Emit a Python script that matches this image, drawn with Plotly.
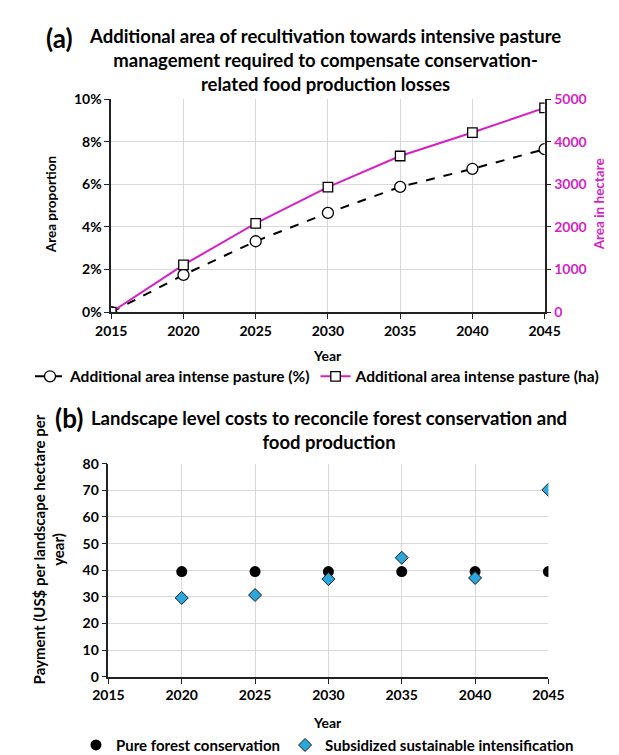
import plotly.graph_objects as go

# ---- data ----
years_a = [2015, 2020, 2025, 2030, 2035, 2040, 2045]
area_pct = [0.0, 1.75, 3.33, 4.66, 5.88, 6.73, 7.65]          # %
area_ha = [0, 1110, 2085, 2935, 3665, 4215, 4795]              # hectare

years_b = [2020, 2025, 2030, 2035, 2040, 2045]
pure_forest = [39.5, 39.5, 39.5, 39.5, 39.5, 39.5]
subsidized = [29.6, 30.7, 36.7, 44.7, 37.1, 70.2]

pct_ticks = [0, 2, 4, 6, 8, 10]
pct_labels = ["0%", "2%", "4%", "6%", "8%", "10%"]

W, H = 619, 755
FONT = "Lato"
MAG = "#d61fc4"
BLUE = "#2aa7dc"

def px(x):
    return x / W

def py(y):
    return 1 - y / H

fig = go.Figure()

fig.add_trace(go.Scatter(
    x=years_a, y=area_pct, mode="lines+markers",
    name="Additional area intense pasture (%)",
    line=dict(color="black", width=2, dash="dash"),
    marker=dict(symbol="circle", size=11, color="white", line=dict(color="black", width=1.3)),
    xaxis="x", yaxis="y", legend="legend",
))
fig.add_trace(go.Scatter(
    x=years_a, y=area_ha, mode="lines+markers",
    name="Additional area intense pasture (ha)",
    line=dict(color=MAG, width=2),
    marker=dict(symbol="square", size=9.5, color="white", line=dict(color="black", width=1.3)),
    xaxis="x", yaxis="y2", legend="legend",
))
fig.add_trace(go.Scatter(
    x=years_b, y=pure_forest, mode="markers",
    name="Pure forest conservation",
    marker=dict(symbol="circle", size=11, color="black"),
    xaxis="x3", yaxis="y3", legend="legend2",
))
fig.add_trace(go.Scatter(
    x=years_b, y=subsidized, mode="markers",
    name="Subsidized sustainable intensification",
    marker=dict(symbol="diamond", size=10, color=BLUE, line=dict(color="#1a1a1a", width=1)),
    xaxis="x3", yaxis="y3", legend="legend2",
))

tickfont = dict(family=FONT, size=14, color="black", weight="bold")
axcommon = dict(showline=True, linecolor="#222", linewidth=1.5, ticks="outside", ticklen=5,
                tickcolor="#222", tickwidth=1.3, gridcolor="#d9d9d9", gridwidth=1,
                zeroline=False, tickfont=tickfont)

dom_xa = [px(92), px(549)]
dom_ya = [py(302), py(84)]
dom_xb = [px(89), px(553)]
dom_yb = [py(675), py(457)]

fig.update_layout(
    width=W, height=H, margin=dict(l=0, r=0, t=0, b=0),
    paper_bgcolor="white", plot_bgcolor="white",
    font=dict(family=FONT, color="black"),
    xaxis=dict(domain=dom_xa, anchor="y", range=[2015, 2045], tickmode="array",
               tickvals=years_a, showgrid=True, mirror=False, **axcommon),
    yaxis=dict(domain=dom_ya, anchor="x", range=[0, 10], tickmode="array",
               tickvals=pct_ticks, ticktext=pct_labels, showgrid=True, **axcommon),
    yaxis2=dict(overlaying="y", anchor="x", side="right", range=[0, 5000], dtick=1000,
                showgrid=False, showline=True, linecolor="#222", linewidth=1.5,
                ticks="outside", ticklen=5, tickcolor="#222", tickwidth=1.3, zeroline=False,
                tickfont=dict(family=FONT, size=14, color=MAG, weight="bold")),
    xaxis3=dict(domain=dom_xb, anchor="y3", range=[2015, 2045], dtick=5, tick0=2015,
                showgrid=True, **axcommon),
    yaxis3=dict(domain=dom_yb, anchor="x3", range=[0, 80], dtick=10, showgrid=True, **axcommon),
    legend=dict(orientation="h", x=0.5, xanchor="center", y=py(368), yanchor="middle",
                font=dict(family=FONT, size=15.5, color="black", weight="bold"),
                itemwidth=30, tracegroupgap=0, bgcolor="rgba(0,0,0,0)"),
    legend2=dict(orientation="h", x=0.517, xanchor="center", y=py(745), yanchor="middle",
                 font=dict(family=FONT, size=15, color="black", weight="bold"),
                 itemwidth=30, bgcolor="rgba(0,0,0,0)"),
    showlegend=True,
)

def ann(text, x, y, size=14, color="black", angle=0, xanchor="center", yanchor="middle", align="center"):
    fig.add_annotation(text=text, x=px(x), y=py(y), xref="paper", yref="paper",
                       showarrow=False, textangle=angle, xanchor=xanchor, yanchor=yanchor,
                       align=align,
                       font=dict(family=FONT, size=size, color=color, weight="bold"))

# panel (a) texts
ann("(a)", 37, 21, size=26)
ann("Additional area of recultivation towards intensive pasture<br>"
    "management required to compensate conservation-<br>"
    "related food production losses", 317, 44, size=18.5)
ann("Area proportion", 28, 192, size=13.5, angle=-90)
ann("Area in hectare", 606, 192, size=13.5, color=MAG, angle=-90)
ann("Year", 320, 346, size=14)

# panel (b) texts
ann("(b)", 47, 410, size=26)
ann("Landscape level costs to reconcile forest conservation and<br>food production",
    322, 423, size=18.5)
ann("Payment (US$ per landscape hectare per<br>year)", 26, 545, size=15, angle=-90)
ann("Year", 320, 722, size=14)

fig.write_html("out.html")
